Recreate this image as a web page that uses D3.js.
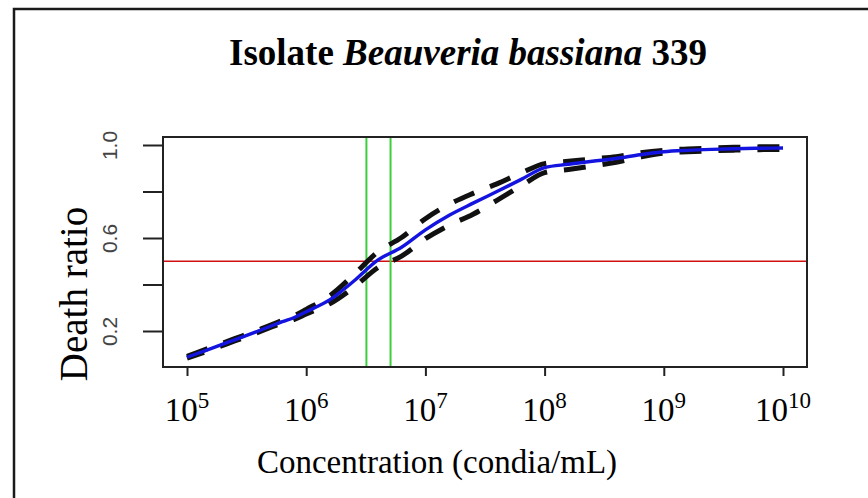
<!DOCTYPE html>
<html>
<head>
<meta charset="utf-8">
<script src="https://cdn.jsdelivr.net/npm/d3@7"></script>
<style>
  html, body { margin: 0; padding: 0; background: #fff; }
  svg { display: block; }
</style>
</head>
<body>
<svg id="chart" width="868" height="498"></svg>
<script>
// Dose-response fit: log10 concentration grid, fitted death ratio and its confidence band
const logConc = [5.0, 5.2, 5.4, 5.6, 5.8, 5.9, 6.0, 6.2, 6.4, 6.6, 6.8, 7.0, 7.2, 7.4, 7.6, 7.8, 8.0, 8.2, 8.4, 8.6, 8.8, 9.0, 9.2, 9.4, 9.6, 9.8, 10.0];
const fitted = [0.087, 0.124, 0.162, 0.200, 0.240, 0.258, 0.283, 0.335, 0.415, 0.505, 0.560, 0.635, 0.698, 0.750, 0.800, 0.851, 0.903, 0.917, 0.930, 0.942, 0.958, 0.971, 0.977, 0.981, 0.984, 0.986, 0.987];
const upperBand = [0.091, 0.129, 0.167, 0.205, 0.246, 0.266, 0.293, 0.352, 0.442, 0.540, 0.602, 0.683, 0.745, 0.792, 0.833, 0.879, 0.920, 0.930, 0.940, 0.950, 0.966, 0.977, 0.983, 0.987, 0.990, 0.992, 0.993];
const lowerBand = [0.083, 0.119, 0.157, 0.195, 0.234, 0.250, 0.273, 0.318, 0.388, 0.472, 0.522, 0.597, 0.655, 0.702, 0.762, 0.823, 0.881, 0.895, 0.910, 0.926, 0.948, 0.965, 0.971, 0.975, 0.978, 0.980, 0.981];

// LC50 confidence limits (conidia/mL) and the 50% reference level
const lcLimits = [3.2e6, 5.1e6];
const halfLevel = 0.5;

// Axis ticks
const xTickExponents = [5, 6, 7, 8, 9, 10];
const yTicks = [0.2, 0.4, 0.6, 0.8, 1.0];
const yTickLabels = ["0.2", "", "0.6", "", "1.0"];

const titleParts = [
  { text: "Isolate ", italic: false },
  { text: "Beauveria bassiana", italic: true },
  { text: " 339", italic: false }
];
const xTitle = "Concentration (condia/mL)";
const yTitle = "Death ratio";

const svg = d3.select("#chart");

// Outer frame
svg.append("rect")
  .attr("x", 14).attr("y", 9)
  .attr("width", 900).attr("height", 520)
  .attr("fill", "none").attr("stroke", "#1a1a1a").attr("stroke-width", 2.5);

const x = d3.scaleLog().domain([1e5, 1e10]).range([187, 783]);
const y = d3.scaleLinear().domain([0.2, 1.0]).range([331, 145]);

const box = { left: 163, right: 807, top: 137, bottom: 367 };

const serif = "'Liberation Serif', 'Times New Roman', serif";

// Title
const title = svg.append("text")
  .attr("x", 468).attr("y", 65)
  .attr("text-anchor", "middle")
  .attr("font-family", serif)
  .attr("font-weight", "bold")
  .attr("font-size", 37)
  .attr("fill", "#000");
title.selectAll("tspan").data(titleParts).join("tspan")
  .attr("font-style", d => d.italic ? "italic" : "normal")
  .text(d => d.text);

// Plot content
const g = svg.append("g");

const pts = (arr) => logConc.map((l, i) => [Math.pow(10, l), arr[i]]);
const line = d3.line().x(d => x(d[0])).y(d => y(d[1])).curve(d3.curveMonotoneX);

// Reference line at 50% mortality
g.append("line")
  .attr("x1", box.left).attr("x2", box.right)
  .attr("y1", y(halfLevel)).attr("y2", y(halfLevel))
  .attr("stroke", "#d01010").attr("stroke-width", 1.6);

// LC50 confidence limits
g.selectAll("line.lc").data(lcLimits).join("line")
  .attr("class", "lc")
  .attr("x1", d => x(d)).attr("x2", d => x(d))
  .attr("y1", box.top).attr("y2", box.bottom)
  .attr("stroke", "#3ccf3c").attr("stroke-width", 2);

// Confidence band (dashed)
[upperBand, lowerBand].forEach((band, i) => {
  g.append("path")
    .attr("d", line(pts(band)))
    .attr("fill", "none")
    .attr("stroke", "#111")
    .attr("stroke-width", 5)
    .attr("stroke-dasharray", "22 17")
    .attr("stroke-dashoffset", i === 0 ? 0 : 4);
});

// Fitted curve
g.append("path")
  .attr("d", line(pts(fitted)))
  .attr("fill", "none")
  .attr("stroke", "#1414e0")
  .attr("stroke-width", 3.4)
  .attr("stroke-linejoin", "round");

// Plot box
svg.append("rect")
  .attr("x", box.left).attr("y", box.top)
  .attr("width", box.right - box.left).attr("height", box.bottom - box.top)
  .attr("fill", "none").attr("stroke", "#222").attr("stroke-width", 2);

// Y axis
const yAxis = d3.axisLeft(y).tickValues(yTicks).tickSize(20).tickPadding(8)
  .tickFormat((d, i) => yTickLabels[i]);
const yg = svg.append("g").attr("transform", `translate(${box.left},0)`).call(yAxis);
yg.select(".domain").remove();
yg.selectAll(".tick line").attr("stroke", "#222").attr("stroke-width", 2);
yg.selectAll(".tick text")
  .attr("x", null)
  .attr("text-anchor", "middle")
  .attr("transform", "translate(-53,0) rotate(-90)")
  .attr("dy", "0.35em")
  .attr("font-family", "'Liberation Sans', Arial, sans-serif")
  .attr("font-size", 21)
  .attr("fill", "#444");

// X axis
const xAxis = d3.axisBottom(x).tickValues(xTickExponents.map(e => Math.pow(10, e)))
  .tickSize(9).tickFormat("");
const xg = svg.append("g").attr("transform", `translate(0,${box.bottom})`).call(xAxis);
xg.select(".domain").remove();
xg.selectAll(".tick line").attr("stroke", "#222").attr("stroke-width", 2);

const xLabels = svg.append("g")
  .attr("font-family", serif)
  .attr("fill", "#000");
xTickExponents.forEach(e => {
  const t = xLabels.append("text")
    .attr("x", x(Math.pow(10, e)))
    .attr("y", 421)
    .attr("text-anchor", "middle")
    .attr("font-size", 33);
  t.append("tspan").text("10");
  t.append("tspan").attr("font-size", 23).attr("dy", -13).text(String(e));
});

// Axis titles
svg.append("text")
  .attr("x", 437).attr("y", 473)
  .attr("text-anchor", "middle")
  .attr("font-family", serif)
  .attr("font-size", 33)
  .attr("fill", "#000")
  .text(xTitle);

svg.append("text")
  .attr("transform", "translate(87,294) rotate(-90)")
  .attr("text-anchor", "middle")
  .attr("font-family", serif)
  .attr("font-size", 39)
  .attr("fill", "#000")
  .text(yTitle);
</script>
</body>
</html>
